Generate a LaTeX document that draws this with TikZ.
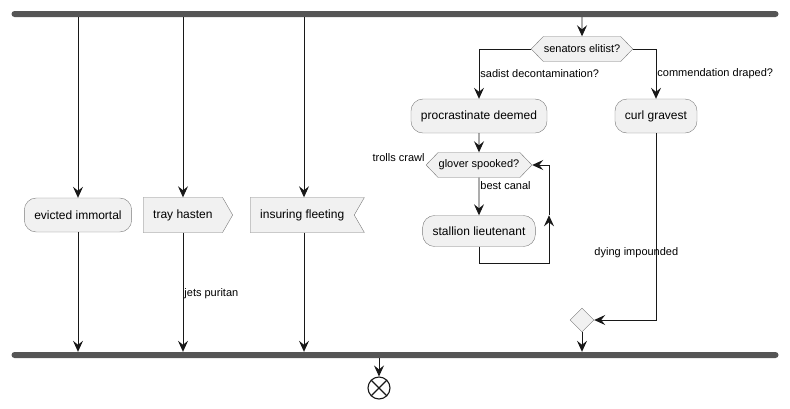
\documentclass[tikz,border=0pt]{standalone}
\usepackage{fontspec}
\setmainfont{Liberation Sans}
\usetikzlibrary{arrows.meta, positioning, shapes.symbols, shapes.geometric}

\definecolor{actfill}{HTML}{F1F1F1}
\definecolor{actline}{HTML}{7A7A7A}
\definecolor{barcol}{HTML}{555555}
\definecolor{arrcol}{HTML}{181818}

\begin{document}
\begin{tikzpicture}[
    x=1pt, y=-1pt,
    act/.style={draw=actline, fill=actfill, rounded corners=12pt, minimum height=34pt,
                inner xsep=10pt, font=\fontsize{12}{14}\selectfont},
    sendsig/.style={draw=actline, fill=actfill, signal, signal to=east, signal pointer angle=120,
                minimum height=35pt, inner xsep=10pt, font=\fontsize{12}{14}\selectfont},
    recvsig/.style={draw=actline, fill=actfill, signal, signal to=nowhere, signal from=east,
                signal pointer angle=120, minimum height=35pt, inner xsep=10pt,
                font=\fontsize{12}{14}\selectfont},
    hexa/.style={draw=actline, fill=actfill, signal, signal to=east and west, signal pointer angle=92,
                minimum height=25pt, inner xsep=0.5pt, inner ysep=0pt, font=\fontsize{11}{13}\selectfont},
    merge/.style={draw=actline, fill=actfill, diamond, minimum size=24pt, inner sep=0pt},
    bar/.style={fill=barcol, rounded corners=3pt, minimum height=6pt, minimum width=767pt, inner sep=0pt},
    endnode/.style={circle, draw=arrcol, line width=1.1pt, minimum size=22pt, inner sep=0pt,
                path picture={\draw[arrcol, line width=1.1pt]
                  (path picture bounding box.north west) -- (path picture bounding box.south east)
                  (path picture bounding box.north east) -- (path picture bounding box.south west);}},
    lbl/.style={font=\fontsize{11}{13}\selectfont, anchor=west, inner sep=1pt},
    arr/.style={-{Stealth[length=11pt, width=10pt, inset=4pt]}, draw=arrcol, line width=0.9pt}
]
\useasboundingbox (0,0) rectangle (790,408);
% fork and join bars
\node[bar] (fork) at (395,14) {};
\node[bar] (join) at (395,355) {};
% three parallel lanes
\node[act] (evicted) at (78,215) {evicted immortal};
\node[sendsig, anchor=west] (tray) at (143,215) {tray hasten};
\node[recvsig, anchor=west] (insuring) at (250,215) {insuring fleeting};
\coordinate (trayx) at (183,0);
\coordinate (insx) at (304,0);

\draw[arr] (fork.south -| evicted) -- (evicted);
\draw[arr] (evicted) -- (join.north -| evicted);
\draw[arr] (fork.south -| trayx) -- (trayx |- tray.north);
\draw[arr] (trayx |- tray.south) -- node[lbl, pos=0.51] {jets puritan} (join.north -| trayx);
\draw[arr] (fork.south -| insx) -- (insx |- insuring.north);
\draw[arr] (insx |- insuring.south) -- (join.north -| insx);

% decision lane
\node[hexa] (senators) at (582,49) {senators elitist?};
\node[act] (procr) at (479,116) {procrastinate deemed};
\node[act] (curl) at (656,116) {curl gravest};
\draw[arr] (fork.south -| senators) -- (senators);
\draw[arr] (senators.west) -| node[lbl, pos=0.75] {sadist decontamination?} (procr);
\draw[arr] (senators.east) -| node[lbl, pos=0.75] {commendation draped?} (curl);

% while loop
\node[hexa] (glover) at (479,165) {glover spooked?};
\node[act, minimum height=31pt] (stallion) at (479,231) {stallion lieutenant};
\node[lbl, anchor=east] (trolls) at ([yshift=7pt]glover.west) {trolls crawl};
\draw[arr] (procr) -- (glover);
\draw[arr] (glover) -- node[lbl, pos=0.2] {best canal} (stallion);
\coordinate (loopc) at (549,263);
\draw[arr] (stallion.south) |- (loopc) -- (loopc |- stallion.north);
\draw[arr] (loopc |- stallion.north) |- (glover.east);

% merge and end
\node[merge] (mrg) at (582,320) {};
\draw[arr] (curl) |- node[lbl, pos=0.32, xshift=-63pt] {dying impounded} (mrg);
\draw[arr] (mrg) -- (join.north -| mrg);
\node[endnode] (stop) at (379,388) {};
\draw[arr] (join.south -| stop) -- (stop);
\end{tikzpicture}
\end{document}
